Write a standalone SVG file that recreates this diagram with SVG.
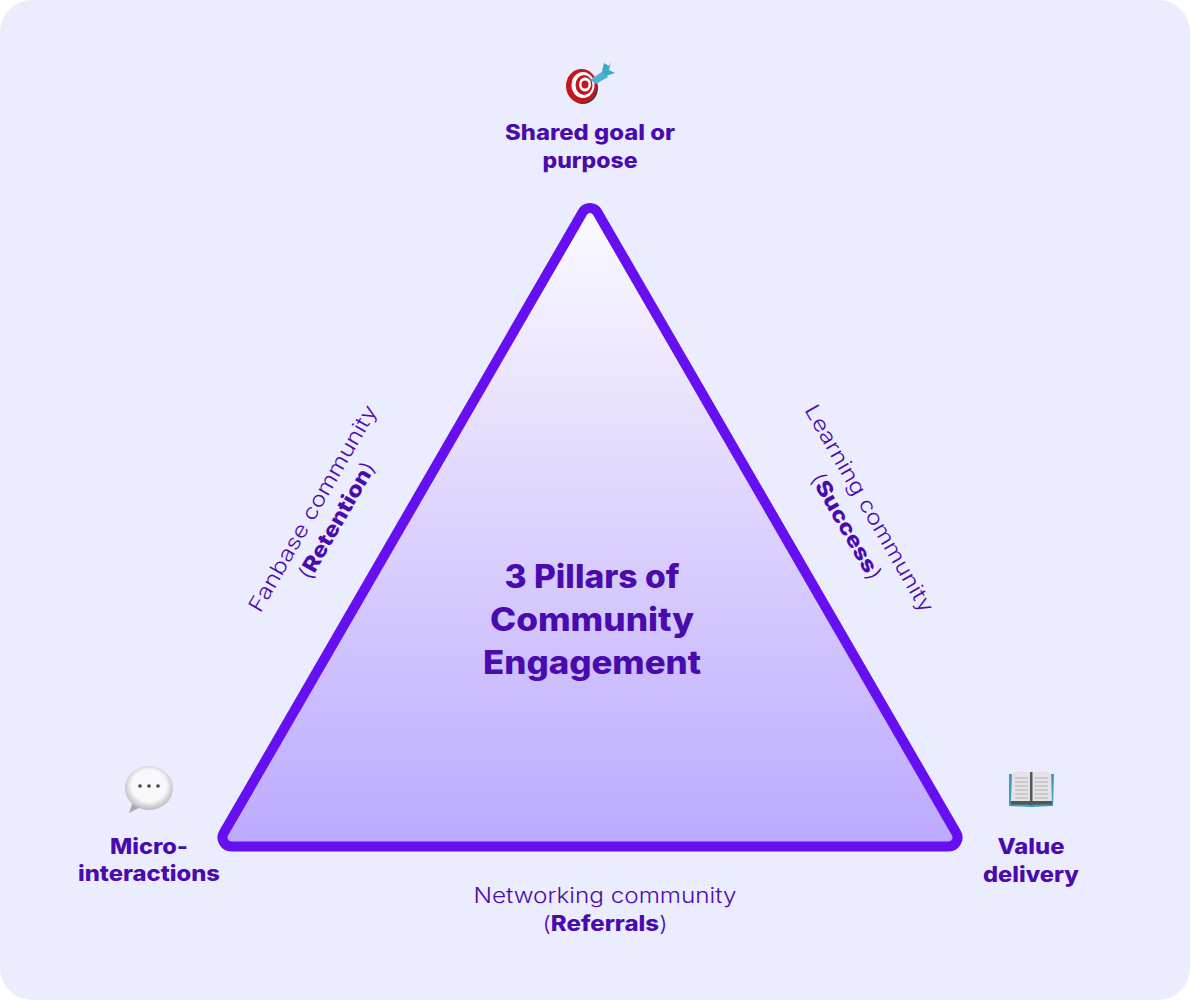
<svg xmlns="http://www.w3.org/2000/svg" width="1190" height="1000" viewBox="0 0 1190 1000">
<style>
text{font-family:"Inter","Noto Sans","Liberation Sans",sans-serif;fill:#4A0BAE;text-anchor:middle}
.b{font-weight:800;font-size:21px}
.t{font-weight:800;font-size:32px}
.l{font-weight:300;font-size:21px}
.lb{font-weight:800}
</style>
<defs>
<linearGradient id="g" x1="0" y1="0" x2="0" y2="1"><stop offset="0" stop-color="#FBFAFF"/><stop offset="0.3" stop-color="#E9E2FD"/><stop offset="1" stop-color="#BCA9FF"/></linearGradient>
<radialGradient id="bub" cx="0.5" cy="0.45" r="0.6"><stop offset="0.6" stop-color="#F8F7FA"/><stop offset="1" stop-color="#A9A6AB"/></radialGradient>
</defs>
<rect width="1190" height="1000" fill="#fff"/>
<rect width="1190" height="1000" rx="32" fill="#ECECFF"/>
<g id="triangle">
<path d="M582.640 212.250A8.500 8.500 0 0 1 597.360 212.250L956.300 833A9 9 0 0 1 948.500 846.500L231.500 846.500A9 9 0 0 1 223.700 833Z" fill="url(#g)" stroke="#6610F2" stroke-width="10" stroke-linejoin="round"/>
</g>
<g id="title">
<text class="t" x="592" y="588" textLength="175" lengthAdjust="spacingAndGlyphs">3 Pillars of</text>
<text class="t" x="592" y="631" textLength="204" lengthAdjust="spacingAndGlyphs">Community</text>
<text class="t" x="592" y="674" textLength="218" lengthAdjust="spacingAndGlyphs">Engagement</text>
</g>
<g id="node-goal">
<ellipse cx="583" cy="88" rx="15" ry="16" fill="#3A3A40"/>
<ellipse cx="581.500" cy="86" rx="15.500" ry="17" fill="#C4161C"/>
<ellipse cx="583" cy="85" rx="11.500" ry="13" fill="#fff"/>
<ellipse cx="584" cy="85" rx="8.500" ry="10" fill="#C4161C"/>
<ellipse cx="585" cy="84.500" rx="6" ry="7" fill="#fff"/>
<ellipse cx="585" cy="84.500" rx="3.500" ry="4" fill="#C4161C"/>
<path d="M590 80L603 71L608 77L596 84Z" fill="#4DB3CF"/>
<path d="M602 71L604 63L609 66L611 62L609 70L615 73L606 76Z" fill="#3FA9C4"/>
<text class="b" x="590" y="140" textLength="170" lengthAdjust="spacingAndGlyphs">Shared goal or</text>
<text class="b" x="590" y="168" textLength="95" lengthAdjust="spacingAndGlyphs">purpose</text>
</g>
<g id="node-micro">
<path d="M132 804L129 813L143 806Z" fill="#ADAAAD"/>
<ellipse cx="149" cy="788" rx="24" ry="22" fill="url(#bub)"/>
<circle cx="140" cy="786" r="1.800" fill="#444"/><circle cx="149" cy="786" r="1.800" fill="#444"/><circle cx="158" cy="786" r="1.800" fill="#444"/>
<text class="b" x="149" y="854" textLength="78" lengthAdjust="spacingAndGlyphs">Micro-</text>
<text class="b" x="149" y="881" textLength="142" lengthAdjust="spacingAndGlyphs">interactions</text>
</g>
<g id="node-value">
<path d="M1009 774L1009 806L1031 807L1053 806L1054 774Z" fill="#3F9DBB"/>
<path d="M1012 773Q1022 769 1031 773Q1041 769 1051 773L1052 802L1011 802Z" fill="#E4E2E6"/>
<path d="M1015 778H1028M1015 782H1028M1015 786H1028M1015 790H1028M1015 794H1028M1015 798H1028M1035 778H1048M1035 782H1048M1035 786H1048M1035 790H1048M1035 794H1048M1035 798H1048" stroke="#B0AEB3" stroke-width="1.200" fill="none"/>
<rect x="1011" y="801" width="41" height="3.500" fill="#555"/>
<rect x="1030" y="772" width="2.500" height="33" fill="#555"/>
<text class="b" x="1031" y="854" textLength="67" lengthAdjust="spacingAndGlyphs">Value</text>
<text class="b" x="1031" y="882" textLength="96" lengthAdjust="spacingAndGlyphs">delivery</text>
</g>
<g id="label-fanbase" transform="translate(319 512) rotate(-60)">
<text class="l" x="0" y="0" textLength="235" lengthAdjust="spacingAndGlyphs">Fanbase community</text>
</g>
<g id="label-retention" transform="translate(343 524) rotate(-60)">
<text class="l" x="0" y="0" textLength="132" lengthAdjust="spacingAndGlyphs">(<tspan class="lb">Retention</tspan>)</text>
</g>
<g id="label-learning" transform="translate(863 512) rotate(60)">
<text class="l" x="0" y="0" textLength="236" lengthAdjust="spacingAndGlyphs">Learning community</text>
</g>
<g id="label-success" transform="translate(840 530) rotate(60)">
<text class="l" x="0" y="0" textLength="120" lengthAdjust="spacingAndGlyphs">(<tspan class="lb">Success</tspan>)</text>
</g>
<g id="label-networking">
<text class="l" x="605" y="903" textLength="263" lengthAdjust="spacingAndGlyphs">Networking community</text>
<text class="l" x="605" y="931" textLength="125" lengthAdjust="spacingAndGlyphs">(<tspan class="lb">Referrals</tspan>)</text>
</g>
</svg>
